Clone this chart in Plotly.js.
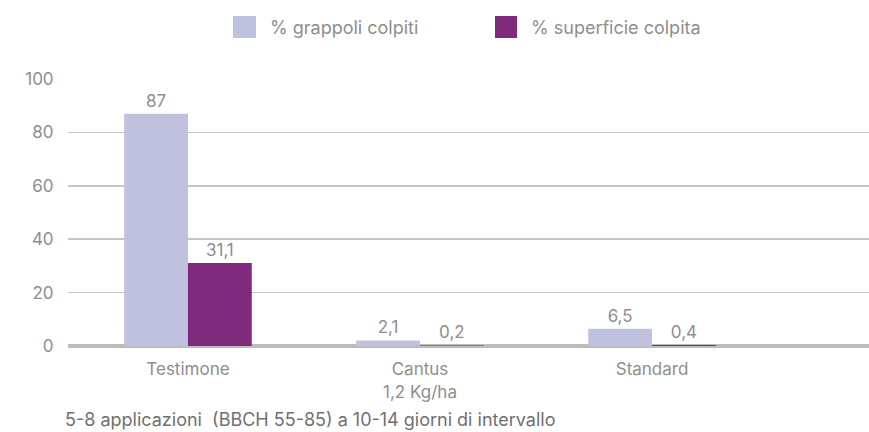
<!DOCTYPE html>
<html>
<head>
<meta charset="utf-8">
<script src="https://cdn.plot.ly/plotly-3.0.1.min.js"></script>
<style>html,body{margin:0;padding:0;background:#fff;}#chart{width:869px;height:432px;}</style>
</head>
<body>
<div id="chart"></div>
<script>
const categories = ["Testimone", "Cantus<br>1,2 Kg/ha", "Standard"];
const seriesNames = ["% grappoli colpiti", "% superficie colpita"];
const grappoli = [87, 2.1, 6.5];
const superficie = [31.1, 0.2, 0.4];
const grappoliLabels = ["87", "2,1", "6,5"];
const superficieLabels = ["31,1", "0,2", "0,4"];
const footnote = "5-8 applicazioni  (BBCH 55-85) a 10-14 giorni di intervallo";
const colors = ["#c0c1de", "#7f2a7c"];

const fam = "Inter, Liberation Sans, Arial, sans-serif";
const font = {family: fam, size: 17, color: "#8e8e8e"};
const bigFont = {family: fam, size: 18, color: "#8e8e8e"};

const traces = [
  {type: "bar", x: categories, y: grappoli, name: seriesNames[0], marker: {color: colors[0]},
   text: grappoliLabels, textposition: "outside", textfont: font, cliponaxis: false},
  {type: "bar", x: categories, y: superficie, name: seriesNames[1], marker: {color: colors[1]},
   text: superficieLabels, textposition: "outside", textfont: font, cliponaxis: false}
];

const layout = {
  width: 869, height: 432,
  margin: {l: 68, r: 0, t: 79, b: 86},
  paper_bgcolor: "#fff", plot_bgcolor: "#fff",
  font: font,
  showlegend: false,
  barmode: "group", bargap: 0.45, bargroupgap: 0,
  xaxis: {type: "category", range: [-0.517, 2.935], showgrid: false, zeroline: false,
          showline: false, ticks: "outside", ticklen: 8, tickcolor: "rgba(0,0,0,0)",
          tickfont: font, fixedrange: true},
  yaxis: {range: [0, 100], dtick: 20, showgrid: true, gridcolor: "#c6c6c6", gridwidth: 1.5,
          zeroline: true, zerolinecolor: "#bdbdbd", zerolinewidth: 4,
          showline: false, ticks: "outside", ticklen: 10, tickcolor: "rgba(0,0,0,0)",
          tickfont: font, fixedrange: true},
  shapes: [
    {type: "rect", xref: "paper", yref: "paper", x0: (233-68)/801, x1: (256-68)/801,
     y0: (432-86-38)/267, y1: (432-86-16)/267, fillcolor: colors[0], line: {width: 0}},
    {type: "rect", xref: "paper", yref: "paper", x0: (495-68)/801, x1: (517-68)/801,
     y0: (432-86-38)/267, y1: (432-86-16)/267, fillcolor: colors[1], line: {width: 0}}
  ],
  annotations: [
    {xref: "paper", yref: "paper", x: (268-68)/801, y: (432-86-28)/267, xanchor: "left", yanchor: "middle",
     text: seriesNames[0], showarrow: false, font: bigFont},
    {xref: "paper", yref: "paper", x: (529-68)/801, y: (432-86-28)/267, xanchor: "left", yanchor: "middle",
     text: seriesNames[1], showarrow: false, font: bigFont},
    {xref: "paper", yref: "paper", x: (63-68)/801, y: (432-86-419)/267, xanchor: "left", yanchor: "middle",
     text: footnote, showarrow: false, font: {family: fam, size: 18, color: "#707070"}}
  ]
};

Plotly.newPlot("chart", traces, layout, {displayModeBar: false, staticPlot: true});
</script>
</body>
</html>
